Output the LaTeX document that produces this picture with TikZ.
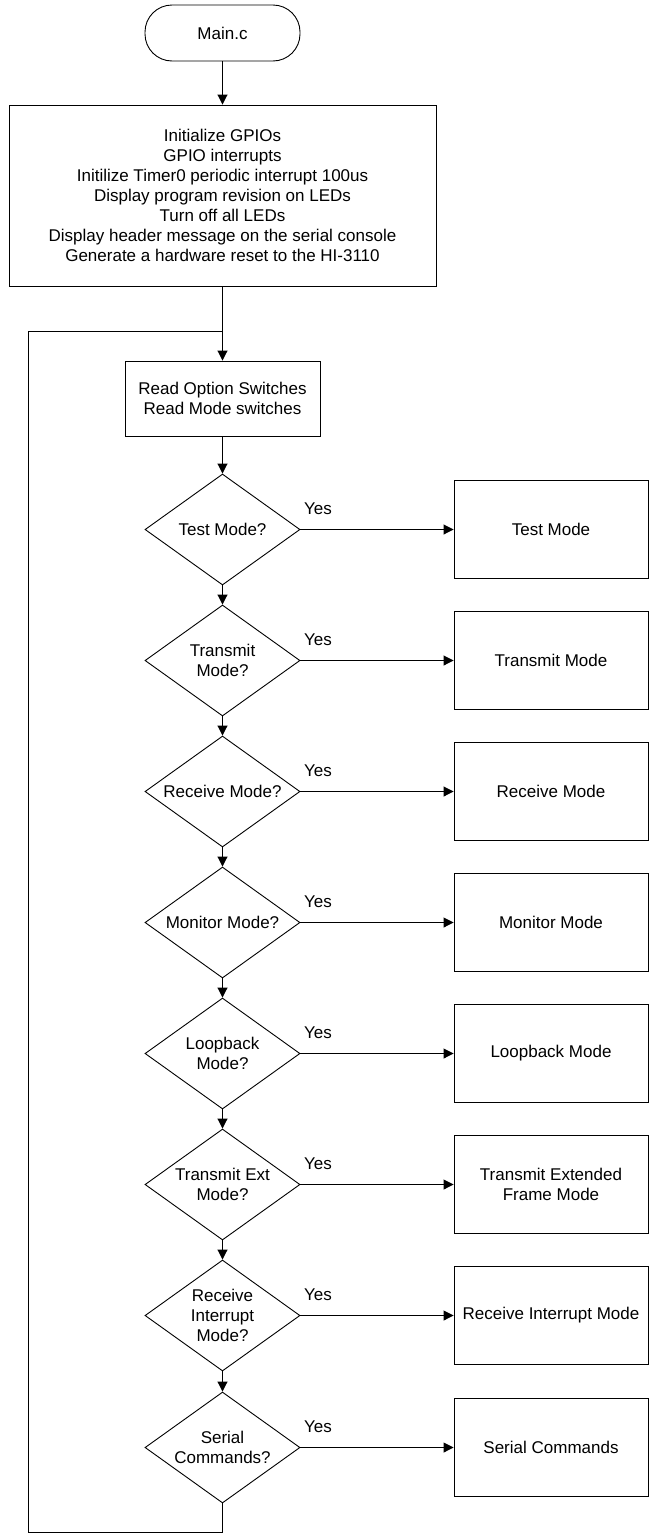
\documentclass[tikz,border=0pt]{standalone}
\usepackage{fontspec}
\setmainfont{Liberation Sans}
\usetikzlibrary{shapes.geometric,arrows.meta}

\begin{document}
\begin{tikzpicture}[
		x=1pt,
		y=-1pt,
		font=\fontsize{17}{20}\selectfont,
		line width=0.9pt,
		>={Triangle[length=10pt,width=10pt]},
		startstop/.style={
				draw,
				shape=rectangle,
				rounded corners=27pt,
				minimum width=155pt,
				minimum height=56pt
			},
		process/.style={
				draw,
				shape=rectangle,
				align=center,
				inner sep=0pt
			},
		decision/.style={
				draw,
				shape=diamond,
				aspect=1.4,
				inner sep=0pt,
				align=center,
				minimum width=155pt,
				minimum height=111pt
			},
		modebox/.style={
				process,
				minimum width=194pt,
				minimum height=98pt
			},
	]
	\useasboundingbox (0,0) rectangle (650,1534);
	\node [startstop] (main) at (222.5, 33) {Main.c};
	\node [process, minimum width=427pt, minimum height=181pt] (init) at (222.5, 195.5) {Initialize GPIOs\\GPIO interrupts\\Initilize Timer0 periodic interrupt 100us\\Display program revision on LEDs\\Turn off all LEDs\\Display header message on the serial console\\Generate a hardware reset to the HI-3110};
	\node [process, minimum width=195pt, minimum height=75pt] (read) at (222.5, 398.5) {Read Option Switches\\Read Mode switches};
	\node [decision] (testq) at (222.5, 529.5) {Test Mode?};
	\node [decision] (txq) at (222.5, 660.5) {Transmit\\Mode?};
	\node [decision] (rxq) at (222.5, 791.5) {Receive Mode?};
	\node [decision] (monq) at (222.5, 922.5) {Monitor Mode?};
	\node [decision] (loopq) at (222.5, 1053.5) {Loopback\\Mode?};
	\node [decision] (txextq) at (222.5, 1184.5) {Transmit Ext\\Mode?};
	\node [decision] (rxintq) at (222.5, 1315.5) {Receive\\Interrupt\\Mode?};
	\node [decision] (serq) at (222.5, 1447.5) {Serial\\Commands?};
	\node [modebox] (test) at (551, 529.5) {Test Mode};
	\node [modebox] (tx) at (551, 660.5) {Transmit Mode};
	\node [modebox] (rx) at (551, 791.5) {Receive Mode};
	\node [modebox] (mon) at (551, 922.5) {Monitor Mode};
	\node [modebox] (loop) at (551, 1053.5) {Loopback Mode};
	\node [modebox] (txext) at (551, 1184.5) {Transmit Extended\\Frame Mode};
	\node [modebox] (rxint) at (551, 1315.5) {Receive Interrupt Mode};
	\node [modebox] (ser) at (551, 1447.5) {Serial Commands};
	\node (yes1) at (318, 509) {Yes};
	\node (yes2) at (318, 640) {Yes};
	\node (yes3) at (318, 771) {Yes};
	\node (yes4) at (318, 902) {Yes};
	\node (yes5) at (318, 1033) {Yes};
	\node (yes6) at (318, 1164) {Yes};
	\node (yes7) at (318, 1295) {Yes};
	\node (yes8) at (318, 1427) {Yes};
	\coordinate (join) at (222.5, 331);
	\coordinate (back) at (28, 1532);
	\draw [->] (main) -- (init);
	\draw [->] (init) -- (read);
	\draw [->] (read) -- (testq);
	\draw [->] (testq) -- (txq);
	\draw [->] (txq) -- (rxq);
	\draw [->] (rxq) -- (monq);
	\draw [->] (monq) -- (loopq);
	\draw [->] (loopq) -- (txextq);
	\draw [->] (txextq) -- (rxintq);
	\draw [->] (rxintq) -- (serq);
	\draw [->] (testq) -- (test);
	\draw [->] (txq) -- (tx);
	\draw [->] (rxq) -- (rx);
	\draw [->] (monq) -- (mon);
	\draw [->] (loopq) -- (loop);
	\draw [->] (txextq) -- (txext);
	\draw [->] (rxintq) -- (rxint);
	\draw [->] (serq) -- (ser);
	\draw (serq.south) |- (back) |- (join);
\end{tikzpicture}
\end{document}
